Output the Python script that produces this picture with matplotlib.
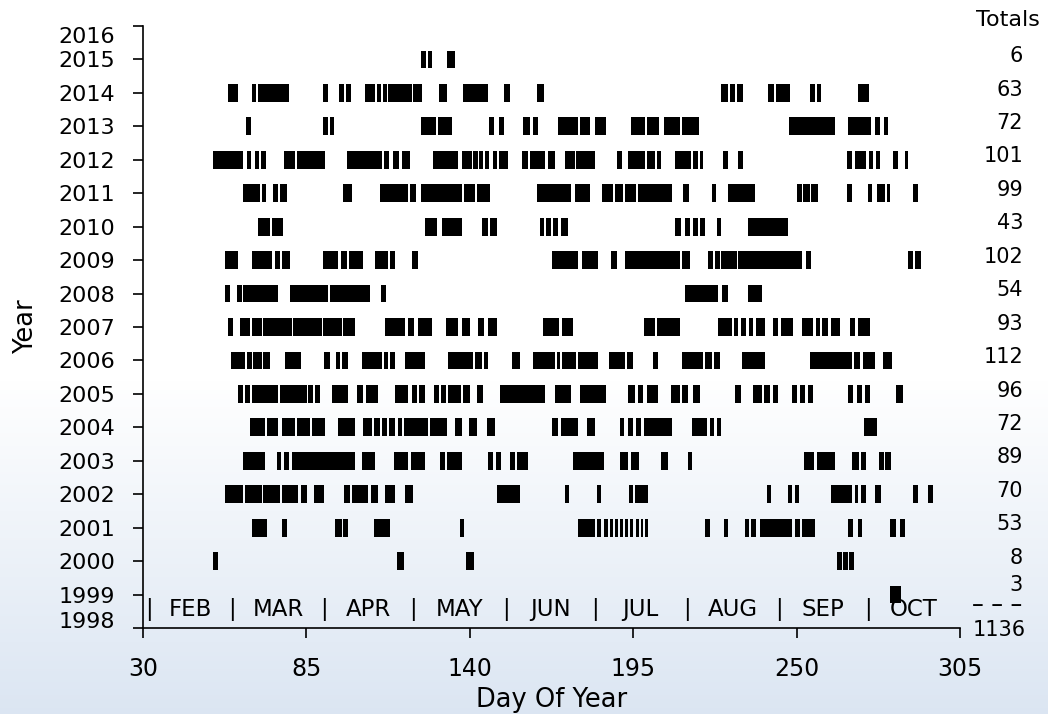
import matplotlib
matplotlib.use("Agg")
import matplotlib.pyplot as plt
import matplotlib.transforms as mtrans
import numpy as np

# ---------------- data: event day-ranges (start_day, end_day) per year ----------------
r1999 = [(281.4, 285.0)]
r2000 = [(53.7, 55.1), (115.6, 118.0), (138.7, 141.3), (263.7, 265.4), (265.7, 267.3), (267.6, 269.2)]
r2001 = [(66.6, 71.6), (76.7, 78.4), (94.6, 96.9), (97.4, 99.1), (107.9, 113.1), (136.7, 138.2),
         (176.5, 182.1), (182.7, 184.3), (185.2, 186.4), (187.1, 188.3), (188.8, 190.0), (190.5, 191.6),
         (192.2, 193.3), (193.9, 195.0), (195.8, 196.9), (197.6, 198.4), (198.9, 200.1), (219.3, 220.8),
         (225.6, 227.0), (232.6, 234.0), (234.6, 236.2), (237.6, 248.3), (249.4, 251.1), (251.9, 256.2),
         (267.4, 269.1), (270.5, 271.9), (281.4, 283.3), (284.8, 286.4)]
r2002 = [(57.6, 63.8), (64.3, 69.9), (70.5, 76.1), (76.7, 82.3), (83.2, 85.1), (87.7, 91.0), (97.7, 99.7),
         (100.5, 105.8), (106.6, 109.1), (111.5, 114.8), (118.2, 121.0), (149.2, 156.9), (172.0, 173.4),
         (182.7, 184.1), (193.5, 195.0), (195.6, 200.1), (239.9, 241.3), (247.2, 248.6), (249.4, 250.9),
         (261.5, 268.5), (269.6, 270.7), (271.6, 273.5), (276.3, 278.4), (289.2, 290.7), (294.3, 296.0)]
r2003 = [(63.8, 71.1), (75.0, 76.4), (77.3, 79.1), (80.3, 101.4), (103.8, 108.1), (114.6, 119.3),
         (120.2, 124.9), (130.0, 131.7), (132.3, 137.3), (146.2, 147.9), (148.7, 150.5), (153.5, 155.2),
         (155.8, 159.7), (174.8, 185.2), (190.5, 193.1), (194.2, 196.9), (204.5, 206.8), (213.3, 214.9),
         (252.6, 255.9), (256.7, 262.9), (268.5, 271.0), (271.6, 273.5), (277.7, 279.5), (279.9, 281.7)]
r2004 = [(66.0, 71.1), (71.6, 75.6), (76.9, 81.2), (81.7, 86.2), (86.8, 91.3), (95.5, 101.4), (104.2, 107.0),
         (107.9, 109.8), (110.6, 112.0), (112.9, 114.8), (115.7, 117.1), (118.0, 126.0), (126.6, 132.2),
         (135.0, 137.3), (139.7, 142.4), (145.8, 148.5), (167.8, 169.8), (170.7, 176.5), (179.3, 182.1),
         (190.5, 192.0), (193.3, 194.8), (195.9, 197.6), (198.7, 208.1), (214.9, 219.7), (220.8, 222.3),
         (223.1, 224.7), (272.8, 276.9)]
r2005 = [(61.9, 63.8), (64.3, 66.0), (66.6, 75.6), (76.2, 85.1), (85.6, 87.3), (87.9, 89.6), (93.6, 99.0),
         (102.0, 104.2), (105.0, 109.1), (114.8, 119.3), (120.4, 122.1), (122.9, 124.9), (128.0, 129.6),
         (130.4, 132.0), (132.7, 137.0), (137.8, 140.1), (142.4, 144.4), (150.2, 165.3), (168.7, 174.2),
         (177.0, 186.0), (193.3, 195.6), (196.7, 198.4), (199.5, 203.4), (207.7, 210.7), (211.5, 213.3),
         (215.2, 217.4), (229.2, 231.2), (235.4, 238.2), (239.1, 241.0), (242.1, 243.8), (248.3, 250.0),
         (251.1, 252.8), (253.9, 255.6), (267.4, 269.1), (270.2, 271.9), (273.0, 274.7), (283.6, 285.9)]
r2006 = [(59.6, 64.3), (64.9, 66.6), (67.1, 69.9), (70.5, 72.7), (77.8, 83.2), (91.0, 92.9), (94.9, 96.3),
         (96.9, 98.9), (103.8, 110.3), (111.0, 112.4), (113.0, 114.8), (118.2, 124.9), (132.8, 141.2),
         (141.7, 144.0), (144.7, 146.2), (154.1, 156.9), (161.4, 168.7), (169.2, 170.4), (170.9, 175.9),
         (176.5, 183.2), (186.8, 192.2), (192.9, 195.0), (201.7, 203.4), (211.3, 218.6), (219.3, 221.4),
         (222.3, 224.2), (231.5, 239.3), (254.5, 268.5), (269.4, 271.3), (272.4, 276.3), (279.1, 282.0)]
r2007 = [(58.6, 60.3), (62.6, 66.0), (66.6, 69.9), (70.5, 80.0), (80.6, 90.1), (90.7, 96.9), (97.4, 101.4),
         (111.5, 118.2), (119.3, 121.3), (122.7, 127.2), (131.9, 136.1), (137.3, 140.1), (142.9, 144.9),
         (146.2, 149.0), (164.6, 170.0), (171.0, 174.8), (198.6, 202.3), (202.9, 210.7), (223.6, 228.1),
         (229.0, 230.3), (231.2, 233.1), (233.9, 235.4), (236.2, 239.3), (242.1, 243.8), (244.7, 248.9),
         (251.7, 255.6), (256.4, 257.8), (258.6, 260.6), (261.5, 264.6), (267.9, 269.6), (270.5, 274.7)]
r2008 = [(57.6, 59.3), (61.5, 63.2), (63.8, 75.6), (79.5, 92.4), (92.9, 106.4), (110.1, 111.7),
         (212.4, 223.6), (225.0, 227.0), (233.7, 238.2)]
r2009 = [(57.6, 62.1), (66.8, 73.5), (74.4, 76.1), (76.9, 79.5), (90.7, 95.7), (96.5, 98.5), (99.3, 104.2),
         (108.1, 112.6), (113.1, 114.8), (120.5, 122.6), (167.6, 176.3), (177.8, 183.2), (187.4, 189.4),
         (192.2, 210.7), (211.3, 214.1), (220.2, 221.9), (222.5, 224.2), (224.7, 229.8), (230.3, 251.7),
         (253.0, 255.0), (287.6, 289.2), (290.0, 291.8)]
r2010 = [(68.8, 72.7), (73.5, 77.2), (124.9, 128.8), (130.8, 137.3), (144.0, 146.2), (146.8, 149.0),
         (163.6, 165.1), (165.8, 167.3), (168.0, 169.6), (170.8, 173.2), (209.0, 211.0), (212.4, 214.1),
         (215.2, 216.9), (217.4, 219.1), (223.1, 224.7), (233.7, 247.2)]
r2011 = [(63.8, 69.4), (69.9, 71.3), (73.9, 75.6), (76.1, 78.4), (97.4, 100.2), (109.8, 119.3), (119.9, 121.8),
         (123.6, 137.3), (138.2, 141.7), (142.3, 146.8), (162.5, 174.2), (175.4, 180.4), (184.6, 188.3),
         (188.8, 191.6), (192.2, 196.1), (196.7, 207.9), (211.8, 213.7), (221.4, 223.0), (227.0, 236.0),
         (250.0, 251.7), (252.2, 254.5), (255.0, 257.3), (266.8, 268.5), (274.1, 275.4), (276.9, 279.7),
         (280.3, 281.4), (289.2, 290.9)]
r2012 = [(53.7, 63.8), (64.9, 66.2), (67.7, 69.0), (69.6, 71.3), (77.6, 81.2), (81.7, 91.3), (98.6, 110.3),
         (111.2, 112.8), (114.3, 116.2), (117.1, 119.9), (127.7, 136.1), (137.3, 140.6), (141.2, 142.6),
         (143.2, 144.6), (145.1, 146.5), (147.9, 149.0), (149.8, 153.0), (157.7, 159.7), (160.3, 165.3),
         (166.4, 168.7), (172.0, 175.4), (175.9, 182.1), (189.7, 191.1), (193.3, 198.9), (199.5, 202.3),
         (202.9, 204.5), (209.0, 214.6), (215.2, 216.9), (217.4, 218.6), (225.3, 227.0), (230.3, 232.0),
         (266.8, 268.7), (269.8, 273.5), (274.3, 275.8), (276.6, 278.0), (282.5, 284.2), (286.4, 287.6)]
r2013 = [(64.6, 66.2), (90.7, 92.2), (92.8, 94.4), (123.6, 128.5), (129.2, 134.1), (146.6, 148.1),
         (149.8, 151.4), (158.0, 160.3), (161.2, 163.1), (169.8, 176.3), (177.0, 180.4), (182.3, 186.0),
         (194.4, 198.9), (199.5, 203.8), (205.3, 210.7), (211.3, 217.1), (247.4, 262.9), (267.4, 275.2),
         (276.3, 278.0), (279.4, 280.8)]
r2014 = [(58.7, 62.1), (66.8, 68.1), (68.8, 79.1), (90.5, 92.4), (96.1, 97.5), (98.2, 100.0), (104.7, 108.1),
         (108.6, 110.1), (110.7, 112.0), (112.6, 120.4), (121.0, 123.9), (129.7, 132.2), (137.8, 146.2),
         (151.6, 153.5), (162.5, 165.1), (224.5, 226.8), (227.5, 229.2), (230.0, 232.0), (240.4, 242.5),
         (243.0, 247.7), (254.5, 256.2), (256.7, 258.2), (270.5, 274.3)]
r2015 = [(123.6, 125.3), (125.8, 127.4), (132.4, 135.0)]

years = list(range(1999, 2016))
runs = [r1999, r2000, r2001, r2002, r2003, r2004, r2005, r2006, r2007, r2008,
        r2009, r2010, r2011, r2012, r2013, r2014, r2015]
totals = [3, 8, 53, 70, 89, 72, 96, 112, 93, 54, 102, 43, 99, 101, 72, 63, 6]
grand_total = 1136

month_names = ["FEB", "MAR", "APR", "MAY", "JUN", "JUL", "AUG", "SEP", "OCT"]
month_starts = [32, 60, 91, 121, 152, 182, 213, 244, 274, 305]

x_ticks = [30, 85, 140, 195, 250, 305]
y_ticks = list(range(1998, 2017))

# ---------------- figure ----------------
plt.rcParams["font.family"] = ["DejaVu Sans"]
FS_TICK = 16
FS_LAB = 18.5
FS_MON = 16.5
FS_TOT = 15
fig = plt.figure(figsize=(10.48, 7.14), dpi=100)

# background gradient (white on top, faint blue at the bottom)
bg = fig.add_axes([0, 0, 1, 1], zorder=-10)
bg.set_axis_off()
h = 714
yy = np.arange(h)
t = np.clip((yy - 380) / (h - 380), 0, 1)
top = np.array([1.0, 1.0, 1.0])
bot = np.array([0.86, 0.90, 0.95])
col = top[None, :] * (1 - t[:, None]) + bot[None, :] * t[:, None]
img = np.repeat(col[:, None, :], 4, axis=1)
bg.imshow(img, aspect="auto", extent=[0, 1, 0, 1], origin="upper")

ax = fig.add_axes([143 / 1048, 1 - 628 / 714, 817 / 1048, 602 / 714])
ax.patch.set_alpha(0)

bar_h = 0.53
for yr, rr in zip(years, runs):
    ax.broken_barh([(s, e - s) for s, e in rr], (yr - bar_h / 2, bar_h),
                   facecolors="black", edgecolors="none")

ax.set_xlim(30, 305)
ax.set_ylim(1998, 2016)
ax.spines["top"].set_visible(False)
ax.spines["right"].set_visible(False)
for s in ("left", "bottom"):
    ax.spines[s].set_linewidth(1.2)
ax.set_xticks(x_ticks)
ax.set_xticklabels([str(v) for v in x_ticks], fontsize=FS_TICK + 1)
ax.set_yticks(y_ticks)
ax.set_yticklabels([str(v) for v in y_ticks], fontsize=FS_TICK)
ax.tick_params(axis="x", direction="out", length=7, width=1.2, pad=14)
ax.tick_params(axis="y", direction="out", length=7, width=1.2, pad=13)
# end labels are nudged inward, as in the original
for lab in ax.get_yticklabels():
    if lab.get_text() == "2016":
        lab.set_transform(lab.get_transform() + mtrans.ScaledTranslation(0, -6.3 / 72, fig.dpi_scale_trans))
    elif lab.get_text() == "1998":
        lab.set_transform(lab.get_transform() + mtrans.ScaledTranslation(0, 5.8 / 72, fig.dpi_scale_trans))
ax.set_xlabel("Day Of Year", fontsize=FS_LAB, labelpad=4)
ax.set_ylabel("Year", fontsize=FS_LAB, labelpad=14)

# month strip
ym = 1998.55
for d in month_starts[:-1]:
    ax.text(d, ym, "|", ha="center", va="center", fontsize=FS_MON)
for i, m in enumerate(month_names):
    ax.text((month_starts[i] + month_starts[i + 1]) / 2, ym, m, ha="center", va="center", fontsize=FS_MON)

# totals column
tr = ax.get_yaxis_transform()
xt = (1023 - 143) / 817
ax.text((1008 - 143) / 817, 2016.18, "Totals", transform=tr, ha="center", va="center",
        fontsize=FS_TOT + 1, clip_on=False)
for yr, tot in zip(years, totals):
    dy = 0.3 if yr == 1999 else 0.1
    ax.text(xt, yr + dy, str(tot), transform=tr, ha="right", va="center", fontsize=FS_TOT, clip_on=False)
ax.text((997 - 143) / 817, 1998.68, "\u2013 \u2013 \u2013", transform=tr, ha="center", va="center",
        fontsize=FS_TOT + 2, clip_on=False)
ax.text((1026 - 143) / 817, 1997.95, str(grand_total), transform=tr, ha="right", va="center",
        fontsize=FS_TOT, clip_on=False)

fig.savefig("out.png", dpi=100)
